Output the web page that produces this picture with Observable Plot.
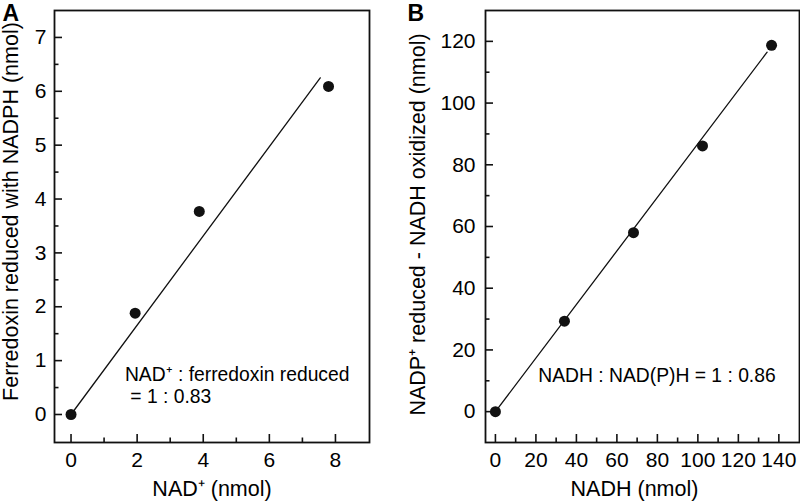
<!DOCTYPE html>
<html>
<head>
<meta charset="utf-8">
<script src="https://cdn.jsdelivr.net/npm/d3@7"></script>
<script src="https://cdn.jsdelivr.net/npm/@observablehq/plot@0.6"></script>
<style>
  html, body { margin: 0; padding: 0; background: #fff; }
  #wrap { display: flex; width: 800px; height: 504px; }
</style>
</head>
<body>
<div id="wrap"></div>
<script>
// ---------- Panel A data ----------
const nadA = [0, 1.94, 3.88, 7.79];            // NAD+ (nmol)
const ferredoxinA = [0, 1.88, 3.77, 6.09];     // Ferredoxin reduced (nmol)
const fitAx = [0, 7.54];
const fitAy = [0, 6.25];
const xMajorA = [0, 2, 4, 6, 8];
const xMinorA = [1, 3, 5, 7];
const yMajorA = [0, 1, 2, 3, 4, 5, 6, 7];
const yMinorA = [0.5, 1.5, 2.5, 3.5, 4.5, 5.5, 6.5];

// ---------- Panel B data ----------
const nadhB = [0, 34.1, 68.2, 102.3, 136.4];   // NADH (nmol)
const nadpB = [0, 29.3, 58.0, 86.1, 118.7];    // NADP+ reduced - NADH oxidized (nmol)
const fitBx = [0, 134.2];
const fitBy = [0, 116.5];
const xMajorB = [0, 20, 40, 60, 80, 100, 120, 140];
const xMinorB = [10, 30, 50, 70, 90, 110, 130];
const yMajorB = [0, 20, 40, 60, 80, 100, 120];
const yMinorB = [10, 30, 50, 70, 90, 110];

const INK = "#111";
const TXT = "#000";
const FONT = "'Liberation Sans', Arial, Helvetica, sans-serif";

function panel(cfg) {
  const W = 400, H = 504;
  const frameW = W - cfg.ml - cfg.mr;
  const frameH = H - cfg.mt - cfg.mb;
  const pts = cfg.xs.map((x, i) => ({x, y: cfg.ys[i]}));
  const fit = cfg.fx.map((x, i) => ({x, y: cfg.fy[i]}));
  return Plot.plot({
    width: W, height: H,
    marginLeft: cfg.ml, marginRight: cfg.mr, marginTop: cfg.mt, marginBottom: cfg.mb,
    style: {fontFamily: FONT, fontSize: "21px", background: "#fff", color: INK, overflow: "visible"},
    x: {domain: cfg.xd, label: null},
    y: {domain: cfg.yd, label: null},
    marks: [
      Plot.axisX({ticks: cfg.xMaj, tickSize: 0, tickPadding: 10, label: null, fontSize: 21, fill: TXT}),
      Plot.axisY({ticks: cfg.yMaj, tickSize: 0, tickPadding: cfg.yPad, label: null, fontSize: 21, fill: TXT}),
      Plot.tickX(cfg.xMaj, {x: d => d, insetTop: frameH - 8, stroke: INK, strokeWidth: 1.6}),
      Plot.tickX(cfg.xMin, {x: d => d, insetTop: frameH - 4.5, stroke: INK, strokeWidth: 1.6}),
      Plot.tickY(cfg.yMaj, {y: d => d, insetRight: frameW - 8, stroke: INK, strokeWidth: 1.6}),
      Plot.tickY(cfg.yMin, {y: d => d, insetRight: frameW - 4.5, stroke: INK, strokeWidth: 1.6}),
      Plot.frame({stroke: INK, strokeWidth: 1.8}),
      Plot.line(fit, {x: "x", y: "y", stroke: INK, strokeWidth: 1.3}),
      Plot.dot(pts, {x: "x", y: "y", r: 5.5, fill: INK, stroke: null}),
      Plot.text([cfg.note], {x: cfg.noteX, y: cfg.noteY, textAnchor: "start", lineAnchor: "top",
        lineHeight: 1.16, fontSize: 19.3, fill: TXT}),
      Plot.text([cfg.xLabel], {frameAnchor: "bottom", dy: 38, dx: cfg.xLabelDx, lineAnchor: "top",
        textAnchor: "middle", fontSize: 21.5, fill: TXT}),
      Plot.text([cfg.yLabel], {frameAnchor: "left", rotate: -90, dx: cfg.yLabelDx, dy: cfg.yLabelDy,
        textAnchor: "middle", lineAnchor: "middle", fontSize: 21.5, fill: TXT}),
      Plot.text([cfg.letter], {frameAnchor: "top-left", dx: cfg.letterDx, dy: -6, lineAnchor: "top",
        textAnchor: "start", fontSize: 23, fontWeight: "bold", fill: TXT})
    ]
  });
}

const wrap = document.getElementById("wrap");
wrap.append(panel({
  ml: 54, mr: 31, mt: 10, mb: 62, yPad: 8,
  xd: [-0.5, 9.03], yd: [-0.52, 7.5],
  xs: nadA, ys: ferredoxinA, fx: fitAx, fy: fitAy,
  xMaj: xMajorA, xMin: xMinorA, yMaj: yMajorA, yMin: yMinorA,
  note: "NAD\u207A : ferredoxin reduced\n\u00A0= 1 : 0.83", noteX: 1.63, noteY: 0.92,
  xLabel: "NAD\u207A (nmol)", xLabelDx: 0,
  yLabel: "Ferredoxin reduced with NADPH (nmol)", yLabelDx: -43, yLabelDy: -15,
  letter: "A", letterDx: -52
}));
wrap.append(panel({
  ml: 85, mr: 1, mt: 10, mb: 62, yPad: 10,
  xd: [-4.9, 150.2], yd: [-10, 130],
  xs: nadhB, ys: nadpB, fx: fitBx, fy: fitBy,
  xMaj: xMajorB, xMin: xMinorB, yMaj: yMajorB, yMin: yMinorB,
  note: "NADH : NAD(P)H = 1 : 0.86", noteX: 21.2, noteY: 14.8,
  xLabel: "NADH (nmol)", xLabelDx: -8,
  yLabel: "NADP\u207A reduced - NADH oxidized (nmol)", yLabelDx: -67, yLabelDy: -2,
  letter: "B", letterDx: -78
}));
</script>
</body>
</html>
